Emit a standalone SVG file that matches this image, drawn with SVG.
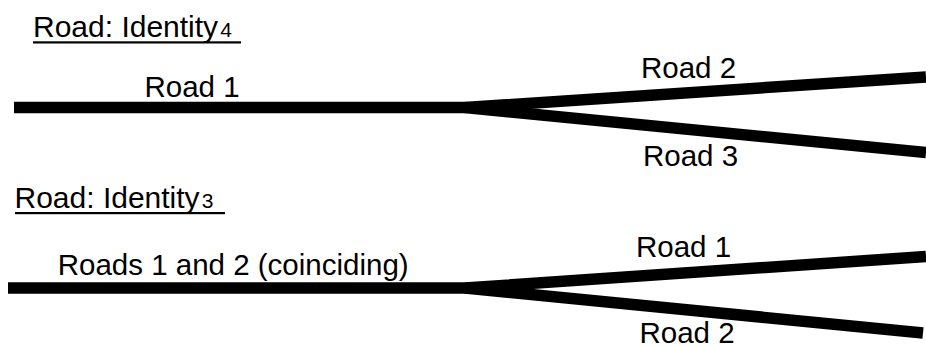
<svg xmlns="http://www.w3.org/2000/svg" width="926" height="347" viewBox="0 0 926 347">
<style>
text{font-family:"Liberation Sans",Arial,sans-serif;fill:#000}
.t{font-size:29.5px}
.h{font-size:30px}
.sub{font-size:21px}
.road{fill:none;stroke:#000;stroke-width:11.5;stroke-linecap:butt;stroke-linejoin:miter}
</style>
<rect width="926" height="347" fill="#fff"/>
<g id="title4">
<text class="h" x="33" y="36.7">Road: Identity<tspan class="sub" dx="2">4</tspan></text>
<rect x="33" y="41.3" width="208" height="2.2" fill="#000"/>
</g>
<g id="title3">
<text class="h" x="14.5" y="208">Road: Identity<tspan class="sub" dx="2">3</tspan></text>
<rect x="15" y="212" width="210" height="2.2" fill="#000"/>
</g>
<g id="connectors">
<path class="road" d="M14 107.5 H465 L926 77"/>
<path class="road" d="M465 107.5 L926 152.5"/>
<path class="road" d="M8 288 H465 L926 256.5"/>
<path class="road" d="M465 288 L923 333"/>
</g>
<g id="labels4">
<text class="t" x="144.5" y="96.7">Road 1</text>
<text class="t" x="641" y="78.3">Road 2</text>
<text class="t" x="643" y="166">Road 3</text>
</g>
<g id="labels3">
<text class="t" x="57.7" y="275">Roads 1 and 2 (coinciding)</text>
<text class="t" x="636" y="256.7">Road 1</text>
<text class="t" x="639.5" y="342.7">Road 2</text>
</g>
</svg>
